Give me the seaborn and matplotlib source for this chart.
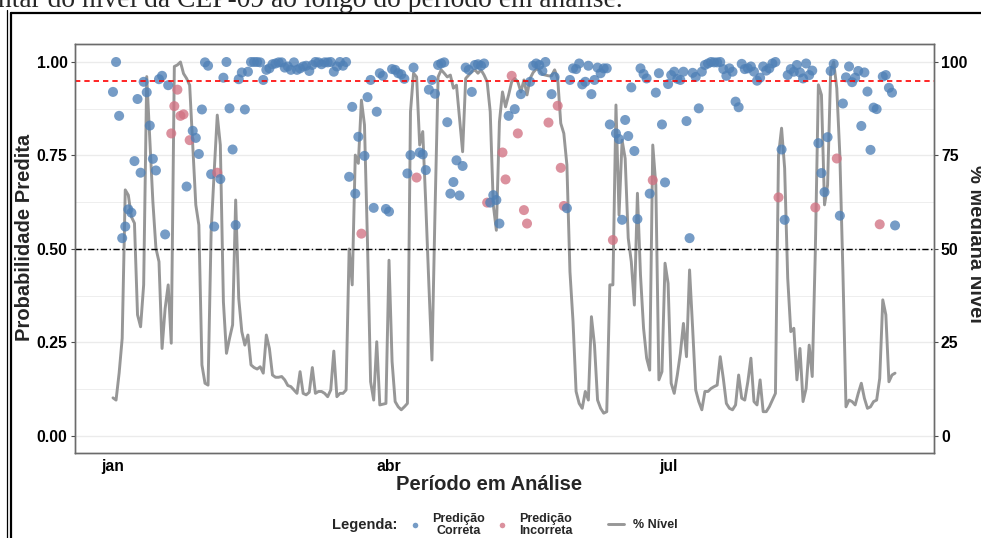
import matplotlib
matplotlib.use("Agg")
import matplotlib.pyplot as plt
import pandas as pd
import seaborn as sns
from matplotlib.lines import Line2D
from matplotlib.ticker import FixedLocator

# ---------------------------------------------------------------------------
# Dados diários (1 de janeiro em diante)
# ---------------------------------------------------------------------------
inicio = "2023-01-01"

# % da mediana do nível da CEP-09
nivel_pct = [
    10.2, 9.6, 16.8, 26.1, 65.8, 64.4, 58.6, 56.9, 32.4, 29.2,
    40.4, 96.1, 79.6, 62.7, 50.2, 46.6, 23.4, 34.1, 40.4, 24.8,
    98.8, 99.2, 100.0, 96.9, 95.6, 93.8, 77.8, 61.8, 56.4, 19.0,
    14.1, 13.6, 54.6, 70.7, 85.8, 77.8, 35.9, 22.1, 26.1, 29.7,
    63.1, 36.8, 27.9, 24.3, 27.0, 19.0, 18.3, 17.9, 18.5, 16.8,
    27.0, 23.4, 16.3, 15.7, 15.7, 15.9, 15.0, 13.5, 13.2, 12.3,
    11.4, 17.2, 11.4, 11.0, 11.7, 18.3, 11.4, 11.9, 11.9, 11.4,
    10.5, 12.3, 22.7, 10.5, 11.4, 11.4, 12.3, 50.0, 40.4, 75.1,
    72.9, 89.8, 83.2, 51.1, 14.5, 9.6, 25.2, 8.3, 8.5, 8.7,
    47.0, 19.9, 9.2, 7.8, 7.0, 7.8, 8.7, 86.7, 97.0, 96.0,
    77.8, 81.4, 61.8, 40.4, 20.3, 60.0, 96.0, 97.9, 97.0, 96.0,
    96.5, 93.0, 93.8, 84.9, 76.0, 95.6, 96.5, 97.4, 97.9, 97.0,
    97.9, 96.5, 94.7, 86.7, 61.8, 55.0, 84.0, 92.0, 88.0, 91.2,
    94.7, 95.6, 94.7, 92.0, 95.2, 91.2, 95.6, 97.2, 98.1, 97.9,
    96.7, 96.5, 96.3, 96.3, 97.9, 95.6, 83.6, 80.9, 72.5, 43.9,
    30.6, 11.9, 8.7, 7.4, 11.9, 9.6, 31.9, 24.3, 9.6, 7.4,
    6.1, 6.5, 40.4, 40.4, 88.5, 59.1, 79.1, 74.2, 52.9, 46.6,
    35.0, 64.9, 43.0, 28.8, 20.8, 17.6, 77.8, 67.1, 15.0, 17.2,
    46.2, 40.8, 14.1, 11.4, 16.3, 22.1, 30.1, 21.2, 44.4, 28.8,
    12.3, 9.2, 7.0, 11.9, 11.9, 12.7, 13.2, 13.6, 21.2, 15.4,
    8.7, 7.4, 7.0, 8.3, 16.3, 10.1, 9.6, 14.5, 20.8, 9.2,
    8.3, 15.0, 6.5, 6.5, 7.8, 9.6, 11.4, 75.1, 82.3, 71.6,
    42.2, 27.9, 28.8, 15.0, 23.4, 9.2, 12.7, 24.3, 15.9, 49.3,
    93.9, 91.2, 61.8, 67.1, 97.4, 100.0, 93.0, 75.1, 43.9, 7.8,
    9.6, 9.2, 8.3, 11.4, 14.1, 10.1, 7.4, 7.8, 9.2, 9.6,
    15.4, 36.4, 32.4, 14.5, 16.3, 16.8,
]

# probabilidade predita pelo modelo
prob_predita = [
    0.920, 1.000, 0.856, 0.529, 0.560, 0.606, 0.597, 0.735, 0.901, 0.704,
    0.947, 0.919, 0.830, 0.741, 0.710, 0.954, 0.963, 0.539, 0.938, 0.809,
    0.882, 0.926, 0.856, 0.860, 0.667, 0.791, 0.816, 0.797, 0.754, 0.873,
    0.999, 0.990, 0.700, 0.560, 0.704, 0.687, 0.958, 1.000, 0.876, 0.766,
    0.564, 0.954, 0.972, 0.873, 0.974, 1.000, 1.000, 1.000, 0.999, 0.952,
    0.979, 0.983, 0.994, 0.996, 0.999, 0.999, 0.985, 0.988, 0.979, 0.999,
    0.979, 0.983, 0.988, 0.990, 0.976, 0.992, 1.000, 0.999, 0.994, 0.999,
    0.999, 1.000, 0.974, 0.988, 1.000, 0.990, 1.000, 0.693, 0.880, 0.648,
    0.800, 0.541, 0.749, 0.906, 0.952, 0.610, 0.867, 0.970, 0.963, 0.607,
    0.600, 0.981, 0.979, 0.970, 0.967, 0.955, 0.702, 0.751, 0.985, 0.691,
    0.758, 0.753, 0.711, 0.926, 0.952, 0.915, 0.992, 0.996, 0.999, 0.839,
    0.648, 0.679, 0.737, 0.643, 0.722, 0.985, 0.979, 0.920, 0.992, 0.994,
    0.990, 0.996, 0.624, 0.624, 0.644, 0.631, 0.568, 0.758, 0.686, 0.856,
    0.963, 0.874, 0.809, 0.914, 0.604, 0.568, 0.947, 0.990, 0.996, 0.992,
    0.976, 1.000, 0.838, 0.914, 0.960, 0.883, 0.717, 0.615, 0.609, 0.952,
    0.983, 0.981, 0.996, 0.940, 0.947, 0.990, 0.914, 0.952, 0.985, 0.970,
    0.983, 0.983, 0.833, 0.524, 0.809, 0.794, 0.578, 0.845, 0.802, 0.932,
    0.762, 0.580, 0.983, 0.968, 0.956, 0.648, 0.684, 0.918, 0.970, 0.833,
    0.678, 0.941, 0.965, 0.974, 0.955, 0.952, 0.974, 0.842, 0.529, 0.971,
    0.960, 0.876, 0.974, 0.992, 0.996, 1.000, 0.999, 0.999, 1.000, 0.981,
    0.963, 0.983, 0.974, 0.894, 0.879, 0.995, 0.981, 0.983, 0.988, 0.974,
    0.950, 0.958, 0.988, 0.977, 0.983, 0.996, 1.000, 0.638, 0.766, 0.578,
    0.965, 0.981, 0.974, 0.992, 0.972, 0.956, 0.996, 0.965, 0.977, 0.611,
    0.783, 0.703, 0.652, 0.799, 0.976, 0.995, 0.742, 0.589, 0.889, 0.959,
    0.988, 0.946, 0.958, 0.976, 0.829, 0.972, 0.921, 0.765, 0.878, 0.874,
    0.566, 0.961, 0.965, 0.931, 0.918, 0.563,
]

# dias (índice a partir de 1/jan) em que a predição foi incorreta
dias_incorretos = [19, 20, 21, 22, 23, 25, 34, 81, 99, 122, 127, 128, 130,
                   132, 134, 135, 142, 145, 146, 147, 163, 176, 217, 229,
                   236, 250]

limiar_alto = 0.95
limiar_medio = 0.50

rotulos_x = ["jan", "abr", "jul"]
datas_x = ["2023-01-01", "2023-04-01", "2023-07-01"]
rotulos_y = ["0.00", "0.25", "0.50", "0.75", "1.00"]
valores_y = [0.0, 0.25, 0.50, 0.75, 1.0]
valores_y2 = [0, 25, 50, 75, 100]

# ---------------------------------------------------------------------------
df = pd.DataFrame({
    "data": pd.date_range(inicio, periods=len(prob_predita), freq="D"),
    "prob": prob_predita,
    "nivel": nivel_pct,
})
df["predicao"] = "Correta"
df.loc[dias_incorretos, "predicao"] = "Incorreta"

AZUL = "#4f80b6"
ROSA = "#d27283"
CINZA = "#8c8c8c"
BORDA = "#6b6b6b"
GRADE = "#ebebeb"

sns.set_theme(style="white")
plt.rcParams["font.family"] = ["Liberation Sans", "DejaVu Sans"]

W, H = 981, 538
fig = plt.figure(figsize=(W / 100, H / 100), dpi=100)
fig.patch.set_facecolor("white")

x0, x1, y0, y1 = 74.5, 934, 44, 453
ax = fig.add_axes([x0 / W, 1 - y1 / H, (x1 - x0) / W, (y1 - y0) / H])
ax2 = ax.twinx()
# pontos por cima da linha do nível
ax.set_zorder(ax2.get_zorder() + 1)
ax.patch.set_visible(False)

# linha do nível (eixo secundário, em %)
sns.lineplot(data=df, x="data", y="nivel", ax=ax2, color=CINZA, lw=2.1,
             alpha=0.9, legend=False)

# probabilidades preditas
sns.scatterplot(data=df, x="data", y="prob", hue="predicao",
                palette={"Correta": AZUL, "Incorreta": ROSA},
                s=52, alpha=0.78, linewidth=0, ax=ax, legend=False)

ax.axhline(limiar_alto, color="red", lw=1.2, ls=(0, (3.2, 2.4)), zorder=1)
ax.axhline(limiar_medio, color="black", lw=1.0, ls=(0, (4.5, 1.8, 1.0, 1.8)),
           zorder=1)

# escalas
d0 = pd.Timestamp(inicio)
xlim = (d0 + pd.Timedelta(days=-12.55), d0 + pd.Timedelta(days=267.7))
ax.set_xlim(*xlim)
ax.set_ylim(-0.0455, 1.0481)
ax2.set_ylim(-4.55, 104.81)

xt = [pd.Timestamp(d) for d in datas_x]
ax.set_xticks(xt)
ax.set_xticklabels(rotulos_x)
xmin = [xt[0] + (xt[1] - xt[0]) / 2, xt[1] + (xt[2] - xt[1]) / 2,
        xt[2] + (pd.Timestamp("2023-10-01") - xt[2]) / 2]
ax.set_xticks(xmin, minor=True)
ax.set_yticks(valores_y)
ax.set_yticklabels(rotulos_y)
ax2.set_yticks(valores_y2)
ax2.set_yticklabels([str(v) for v in valores_y2])
ax2.yaxis.set_minor_locator(FixedLocator([12.5, 37.5, 62.5, 87.5]))

# grade desenhada no eixo de baixo
ax.grid(False)
ax2.grid(True, which="major", axis="both", color=GRADE, lw=1.0)
ax2.grid(True, which="minor", axis="both", color=GRADE, lw=0.6)
ax2.set_axisbelow(True)

for a in (ax, ax2):
    a.tick_params(which="major", length=3, width=0.8, color="#4d4d4d", pad=2)
    a.tick_params(which="minor", length=0)
    for lab in a.get_xticklabels() + a.get_yticklabels():
        lab.set_fontsize(11.3)
        lab.set_fontweight("bold")
        lab.set_color("black")
    for sp in a.spines.values():
        sp.set_color(BORDA)
        sp.set_linewidth(1.0)
ax2.tick_params(axis="x", which="both", length=0, labelbottom=False)
ax.tick_params(axis="x", pad=1.5)

ax.set_xlabel("Período em Análise", fontsize=14.5, fontweight="bold")
ax.xaxis.set_label_coords((489 - x0) / (x1 - x0), (y1 - 485) / (y1 - y0))
ax.xaxis.label.set_va("center")
ax.set_ylabel("Probabilidade Predita", fontsize=14.5, fontweight="bold",
              va="center")
ax.yaxis.set_label_coords((25 - x0) / (x1 - x0), (y1 - 237) / (y1 - y0))
ax2.set_ylabel("% Mediana Nível", fontsize=14.5, fontweight="bold",
               rotation=270, va="center", ha="center")
ax2.yaxis.set_label_coords((975 - x0) / (x1 - x0), (y1 - 244) / (y1 - y0))

# legenda
fy = 1 - 525 / H
fig.text(397 / W, fy, "Legenda:", ha="right", va="center",
         fontsize=10.5, fontweight="bold")
itens = [
    (Line2D([], [], ls="", marker="o", ms=4, color=AZUL, alpha=0.78,
            markeredgewidth=0), "Predição\nCorreta", 407),
    (Line2D([], [], ls="", marker="o", ms=4, color=ROSA, alpha=0.78,
            markeredgewidth=0), "Predição\nIncorreta", 494),
    (Line2D([], [], color=CINZA, lw=2.1, alpha=0.9), "% Nível", 608),
]
for handle, rot, xpx in itens:
    leg = fig.legend([handle], [rot], loc="center left",
                     bbox_to_anchor=(xpx / W, fy), frameon=False,
                     borderpad=0, borderaxespad=0, handlelength=1.3,
                     handletextpad=0.7,
                     prop=dict(size=9, weight="bold"))
    for t in leg.get_texts():
        t.set_multialignment("center")
        t.set_linespacing(1.05)

# moldura e texto da página
fig.text(-2 / W, 1 - 7 / H,
         "ntar do nível da CEP-09 ao longo do período em análise.",
         family=["Liberation Serif", "DejaVu Serif"], fontsize=19.8,
         va="baseline", ha="left")
fig.add_artist(Line2D([7.3 / W, 7.3 / W], [0, 1 - 9.5 / H], color="black",
                      lw=0.9))
fig.add_artist(Line2D([11 / W, 11 / W], [0, 1 - 13 / H], color="black",
                      lw=1.6))
fig.add_artist(Line2D([10.5 / W, 1.0], [1 - 13 / H, 1 - 13 / H],
                      color="black", lw=1.6))

fig.savefig("out.png", dpi=100, facecolor="white")
